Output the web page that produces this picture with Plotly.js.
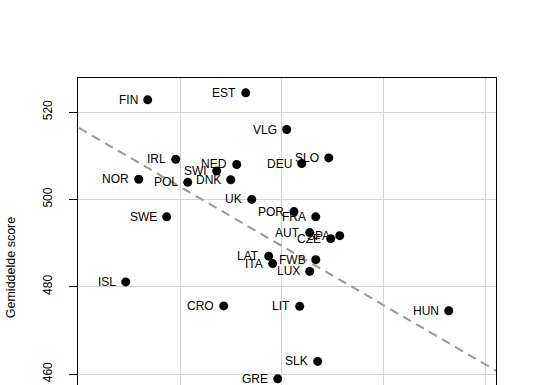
<!DOCTYPE html>
<html>
<head>
<meta charset="utf-8">
<script src="https://cdn.plot.ly/plotly-3.0.1.min.js"></script>
<style>
  html, body { margin: 0; padding: 0; overflow: hidden; background: #fff; }
  #chart { width: 537px; height: 530px; }
</style>
</head>
<body>
<div id="chart"></div>
<script>
// Country codes
const countries = ["FIN","EST","VLG","IRL","NED","SWI","DNK","POL","NOR","DEU","SLO","UK","SWE","POR","FRA","AUT","CZE","SPA","LAT","ITA","FWB","LUX","ISL","CRO","LIT","HUN","SLK","GRE"];
// Horizontal variable (axis not visible in the reference; values estimated on a 10-unit grid)
const xValues = [26.79,36.44,40.47,29.55,35.55,33.58,34.96,30.73,25.91,41.95,44.61,37.03,28.66,41.19,43.33,42.74,44.80,45.69,38.70,39.09,43.33,42.74,24.63,34.27,41.75,56.42,43.52,39.59];
// Gemiddelde score
const scores = [522.8,524.4,516.0,509.2,508.0,506.5,504.5,503.9,504.6,508.2,509.5,500.0,496.0,497.2,496.0,492.4,491.0,491.7,487.0,485.3,486.2,483.5,481.1,475.6,475.5,474.5,462.9,458.9];
// Regression line (intercept, slope)
const fitIntercept = 543.48;
const fitSlope = -1.354;
// Axis ranges / ticks
const xRange = [19.93, 61.07];
const yRange = [441.0, 527.8];
const yTicks = [460, 480, 500, 520];

const fitX = [xRange[0] - 5, xRange[1] + 5];
const fitY = fitX.map(x => fitIntercept + fitSlope * x);

const font = "Liberation Sans, Arial, Helvetica, sans-serif";

const traces = [
  {
    type: "scatter", mode: "lines",
    x: fitX, y: fitY,
    line: { color: "#999999", width: 2, dash: "9px,6px" },
    hoverinfo: "skip", showlegend: false
  },
  {
    type: "scatter", mode: "markers",
    x: xValues, y: scores,
    marker: { color: "#000000", size: 9, line: { width: 0 } },
    showlegend: false, cliponaxis: false
  }
];

const annotations = countries.map((c, i) => ({
  x: xValues[i], y: scores[i], xref: "x", yref: "y",
  text: c, showarrow: false,
  xanchor: "right", yanchor: "middle",
  xshift: -8,
  font: { family: font, size: 12, color: "#000" }
}));

const layout = {
  width: 537, height: 530,
  margin: { l: 78, r: 41, t: 78, b: 73 },
  paper_bgcolor: "#fff", plot_bgcolor: "#fff",
  font: { family: font, size: 12, color: "#000" },
  showlegend: false,
  xaxis: {
    range: xRange, dtick: 10, tick0: 0,
    showgrid: true, gridcolor: "#d3d3d3", gridwidth: 1,
    zeroline: false, showline: true, linecolor: "#000", linewidth: 1, mirror: true,
    ticks: "outside", ticklen: 7, tickcolor: "#000",
    showticklabels: false
  },
  yaxis: {
    range: yRange, tickvals: yTicks, ticktext: yTicks.map(String),
    tickangle: -90,
    showgrid: true, gridcolor: "#d3d3d3", gridwidth: 1,
    zeroline: false, showline: true, linecolor: "#000", linewidth: 1, mirror: true,
    ticks: "outside", ticklen: 8, tickcolor: "#000",
    ticklabelstandoff: 12,
    tickfont: { family: font, size: 12, color: "#000" },
    title: { text: "Gemiddelde score", font: { family: font, size: 12.5, color: "#000" }, standoff: 22 }
  },
  annotations: annotations
};

Plotly.newPlot("chart", traces, layout, { staticPlot: true, displayModeBar: false });
</script>
</body>
</html>
